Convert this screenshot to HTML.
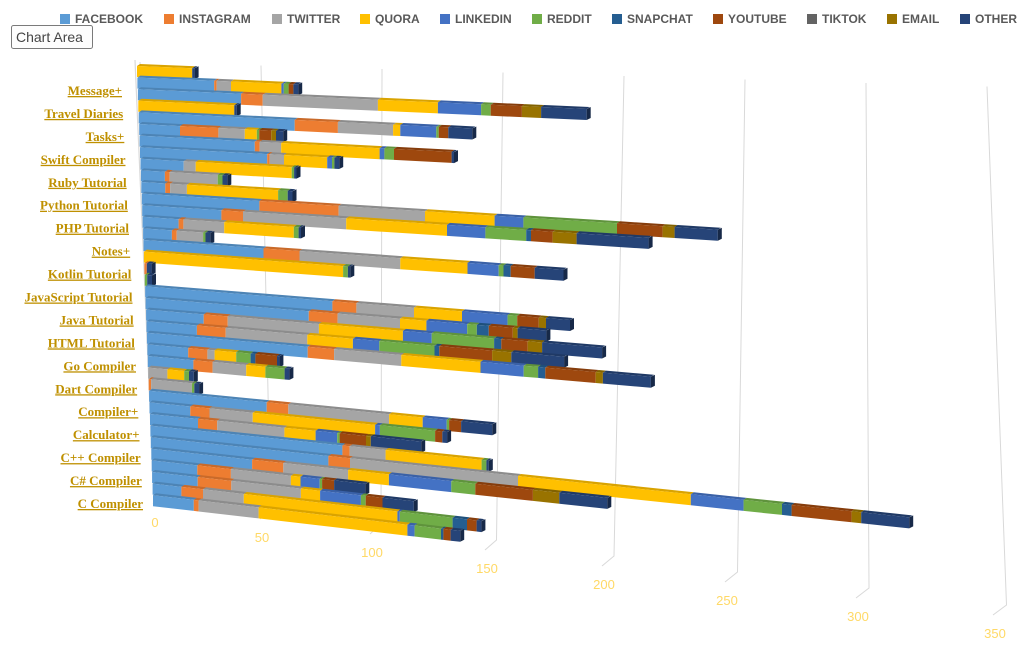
<!DOCTYPE html>
<html><head><meta charset="utf-8"><style>
html,body{margin:0;padding:0;background:#fff;}
svg{display:block;}
</style></head><body>
<svg id="chart" width="1029" height="645" viewBox="0 0 1029 645" xmlns="http://www.w3.org/2000/svg">
<g id="grid"></g>
<g id="bars"></g>
<g id="ticks" font-family="Liberation Sans, sans-serif" font-size="13" fill="#ffd966"></g>
<g id="cats" font-family="Liberation Serif, serif" font-size="13" font-weight="bold" fill="#bf9000" text-decoration="underline"></g>
<g id="legend" font-family="Liberation Sans, sans-serif" font-size="12" font-weight="bold" fill="#595959"></g>
<g>
<rect x="11.5" y="25.5" width="81" height="23" rx="2" fill="#fdfdfd" stroke="#7a7a7a"/>
<text x="16" y="42" font-family="Liberation Sans, sans-serif" font-size="14" fill="#444">Chart Area</text>
</g>
</svg>
<script>
const categories=["Message+","Travel Diaries","Tasks+","Swift Compiler","Ruby Tutorial","Python Tutorial","PHP Tutorial","Notes+","Kotlin Tutorial","JavaScript Tutorial","Java Tutorial","HTML Tutorial","Go Compiler","Dart Compiler","Compiler+","Calculator+","C++ Compiler","C# Compiler","C Compiler"];
const seriesNames=["FACEBOOK","INSTAGRAM","TWITTER","QUORA","LINKEDIN","REDDIT","SNAPCHAT","YOUTUBE","TIKTOK","EMAIL","OTHER"];
const seriesColors=["#5b9bd5","#ed7d31","#a5a5a5","#ffc000","#4472c4","#70ad47","#255e91","#9e480e","#636363","#997300","#264478"];
const tickLabels=[0,50,100,150,200,250,300,350];
const facebook=[0,32,43,0,65,17,48,53,18,10,10,49,33,15,12,50,0,0,0,78,68,24,21,67,17,19,0,0,49,17,20,80,74,42,19,19,12,17];
const instagram=[0,1,9,0,18,16,2,1,0,2,2,33,9,2,2,15,0,1,0,10,12,10,12,11,8,8,0,1,9,8,8,3,9,13,14,14,9,2];
const twitter=[0,6,48,0,23,11,9,6,5,20,7,36,43,17,11,42,0,0,0,24,26,38,34,28,3,14,8,17,42,18,28,15,70,27,25,29,17,25];
const quora=[23,21,25,40,3,5,41,18,40,0,38,29,42,29,0,28,83,0,0,20,11,35,19,33,9,8,7,0,14,51,13,40,72,17,4,8,64,62];
const linkedin=[0,1,18,0,15,0,2,2,0,0,0,12,16,0,0,13,0,0,0,19,17,12,11,18,0,0,0,0,10,2,9,0,22,26,8,17,1,3];
const reddit=[0,2,4,0,1,1,4,1,1,2,4,39,17,2,1,2,2,0,1,4,4,26,23,6,6,8,2,1,1,23,1,2,16,10,1,2,22,11];
const snapchat=[0,0,0,0,0,0,0,0,0,0,0,0,2,0,0,3,0,0,0,0,5,3,2,3,2,0,0,0,0,0,0,0,4,0,0,0,6,1];
const youtube=[0,2,13,0,4,5,24,0,0,0,0,19,9,0,0,10,0,0,0,9,10,11,22,21,9,0,0,0,5,3,11,0,25,24,5,7,4,3];
const tiktok=[0,0,0,0,0,0,0,0,0,0,0,0,0,0,0,0,0,0,0,0,0,0,0,0,0,0,0,0,0,0,0,0,0,0,0,0,0,0];
const email=[0,0,8,0,0,2,0,0,0,0,0,5,10,0,0,0,0,0,0,3,2,6,8,3,0,0,0,0,0,0,2,0,4,11,0,0,0,0];
const other=[1,2,19,1,10,3,1,2,1,2,2,18,30,1,2,12,1,2,2,10,12,25,22,20,1,2,2,2,13,2,21,1,20,20,13,13,2,4];
const series=[facebook,instagram,twitter,quora,linkedin,reddit,snapchat,youtube,tiktok,email,other];

const NS="http://www.w3.org/2000/svg";
const N=facebook.length;
const K=2.4, H=11;
function rowX0(i){return 137+16*i/(N-1);}
function rowY0(i){return 66+11.6*i;}
function rowSlope(i){return 0.04+0.076*i/(N-1);}
function X(i,v){return rowX0(i)+v*K;}
function Y(i,v){return rowY0(i)+rowSlope(i)*v*K;}
function shade(hex,f){const n=parseInt(hex.slice(1),16);let r=n>>16,g=(n>>8)&255,b=n&255;r=Math.round(r*f);g=Math.round(g*f);b=Math.round(b*f);return "rgb("+r+","+g+","+b+")";}
function el(tag,attrs,parent){const e=document.createElementNS(NS,tag);for(const k in attrs)e.setAttribute(k,attrs[k]);parent.appendChild(e);return e;}
const P=a=>a.map(p=>p[0].toFixed(1)+","+p[1].toFixed(1)).join(" ");

// gridlines
const grid=document.getElementById('grid');
const tickPos=[[155,522],[262,537],[372,552],[487,568],[604,584],[727,600],[858,616],[995,633]];
el('line',{x1:135,y1:60,x2:154,y2:500,stroke:"#d9d9d9","stroke-width":1.2},grid);
tickLabels.forEach((t,j)=>{
  const tp=tickPos[j];
  const tx=140+2.4*t+0.02*t, ty=62+0.07*t;
  const bx=tp[0]+8+0.01*t, by=tp[1]-28;
  const gl=el('polyline',{points:P([[tx,ty],[bx,by],[tp[0]-2,tp[1]-18]]),fill:"none",stroke:"#d9d9d9","stroke-width":1},grid);
  
  
});
// ticks
const ticks=document.getElementById('ticks');
tickLabels.forEach((t,j)=>{
  const tx=el('text',{x:tickPos[j][0],y:tickPos[j][1]+5,"text-anchor":"middle"},ticks);
  tx.textContent=String(t);
  
  
});
// bars
const bars=document.getElementById('bars');
for(let i=0;i<N;i++){
  const g=el('g',{},bars);
  
  
  let acc=0,last=-1;
  for(let s=0;s<series.length;s++){
    const v=series[s][i]; if(!v)continue;
    const a=acc,b=acc+v; acc=b; last=s;
    const c=seriesColors[s];
    const top=el('polygon',{points:P([[X(i,a),Y(i,a)],[X(i,b),Y(i,b)],[X(i,b)+3,Y(i,b)-2],[X(i,a)+3,Y(i,a)-2]]),fill:shade(c,0.85)},g);
    
    
    const f=el('polygon',{points:P([[X(i,a),Y(i,a)],[X(i,b),Y(i,b)],[X(i,b),Y(i,b)+H],[X(i,a),Y(i,a)+H]]),fill:c},g);
    
    
  }
  if(last>=0){
    const cap=el('polygon',{points:P([[X(i,acc),Y(i,acc)],[X(i,acc)+4,Y(i,acc)-2],[X(i,acc)+4,Y(i,acc)+H-2],[X(i,acc),Y(i,acc)+H]]),fill:shade(seriesColors[last],0.6)},g);
    
    
  }
}
// category labels
const cats=document.getElementById('cats');
categories.forEach((c,j)=>{
  const y=91+j*(504-91)/(categories.length-1);
  const x=122+j*(143-122)/(categories.length-1);
  const t=el('text',{x:x,y:y+4,"text-anchor":"end"},cats);
  t.textContent=c;
  
  
});
// legend
const legend=document.getElementById('legend');
const legX=[60,164,272,360,440,532,612,713,807,887,960];
seriesNames.forEach((n,s)=>{
  const g=el('g',{},legend);
  
  
  el('rect',{x:legX[s],y:14,width:10,height:10,fill:seriesColors[s]},g);
  const t=el('text',{x:legX[s]+15,y:23},g);
  t.textContent=n;
});
</script>
</body></html>
